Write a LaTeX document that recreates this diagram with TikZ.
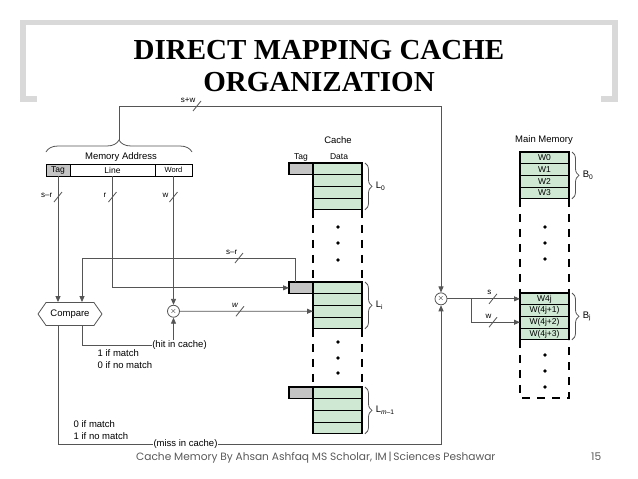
\documentclass[tikz,border=0pt]{standalone}
\usepackage{fontspec}
\setmainfont{Liberation Sans}
\newfontfamily\titlefont{Liberation Serif}
\newfontfamily\footfont{Poppins}
\usetikzlibrary{positioning, shapes.symbols, arrows.meta, decorations.pathreplacing}

\definecolor{cachegreen}{HTML}{CFE8D3}
\definecolor{taggray}{HTML}{C4C4C4}
\definecolor{wiregray}{HTML}{555555}
\definecolor{framegray}{HTML}{D9D9D9}
\definecolor{footgray}{HTML}{595959}

\tikzset{
  memrow/.style={draw, line width=1.2pt, fill=cachegreen, minimum width=49pt, minimum height=11.7pt, inner sep=0pt, outer sep=0pt, font=\fontsize{8.5}{8.5}\selectfont},
  tagbox/.style={draw, line width=1.2pt, fill=taggray, minimum width=24pt, minimum height=11.7pt, inner sep=0pt, outer sep=0pt},
  addrfield/.style={draw, line width=1pt, minimum height=12pt, inner sep=0pt, outer sep=0pt, font=\fontsize{8.5}{8.5}\selectfont},
  wire/.style={draw=wiregray, line width=0.8pt},
  buslabel/.style={font=\fontsize{8}{8}\selectfont, inner sep=0.5pt},
  smalltext/.style={font=\fontsize{9.5}{11.5}\selectfont, inner sep=0.5pt},
  xcirc/.style={draw=wiregray, circle, line width=0.8pt, minimum size=12pt, inner sep=0pt, font=\fontsize{8}{8}\selectfont},
  curly/.style={draw=wiregray, line width=0.8pt, decorate, decoration={brace, amplitude=#1}},
  colline/.style={line width=1.5pt, dash pattern=on 8pt off 7pt},
  bus/.pic={\draw[wiregray, line width=0.8pt] (-4,5) -- (4,-5);}
}

\begin{document}
\begin{tikzpicture}[x=1pt, y=-1pt, >={Triangle[length=6pt,width=5pt]}]
  \useasboundingbox (0,0) rectangle (638,479);

  % title
  \draw[framegray, line width=5.5pt] (23,102) -- (23,22.5) -- (615,22.5) -- (615,102);
  \draw[framegray, line width=5.5pt] (20.5,99) -- (37,99);
  \draw[framegray, line width=5.5pt] (601,99) -- (617.5,99);
  \node[font=\titlefont\bfseries\fontsize{29}{31}\selectfont, anchor=base] (title1) at (319,59) {DIRECT MAPPING CACHE};
  \node[font=\titlefont\bfseries\fontsize{29}{31}\selectfont, anchor=base] (title2) at (319,91) {ORGANIZATION};

  % memory address
  \node[addrfield, fill=taggray, minimum width=24pt] (tagf) at (58,170) {Tag};
  \node[addrfield, minimum width=85pt, right=0pt of tagf] (linef) {Line};
  \node[addrfield, minimum width=37pt, right=0pt of linef, font=\fontsize{7.5}{7.5}\selectfont] (wordf) {Word};
  \node[smalltext] (maddr) at (121,157) {Memory Address};
  \coordinate (bracel) at (46,152);
  \coordinate (bracer) at (192,152);
  \coordinate (addrtip) at (119,140);
  \draw[curly=12pt] (bracel) -- (bracer);

  % cache
  \node[smalltext] (cachelbl) at (338,140) {Cache};
  \node[font=\fontsize{8.5}{8.5}\selectfont] (taglbl) at (301,157) {Tag};
  \node[font=\fontsize{8.5}{8.5}\selectfont] (datalbl) at (339,157) {Data};

  \node[memrow] (c0a) at (337.5,168.85) {};
  \node[memrow, below=0pt of c0a] (c0b) {};
  \node[memrow, below=0pt of c0b] (c0c) {};
  \node[memrow, below=0pt of c0c] (c0d) {};
  \node[tagbox, left=0pt of c0a] (ctag0) {};

  \node[memrow] (cia) at (337.5,287.85) {};
  \node[memrow, below=0pt of cia] (cib) {};
  \node[memrow, below=0pt of cib] (cic) {};
  \node[memrow, below=0pt of cic] (cid) {};
  \node[tagbox, left=0pt of cia] (ctagi) {};

  \node[memrow] (cma) at (337.5,392.85) {};
  \node[memrow, below=0pt of cma] (cmb) {};
  \node[memrow, below=0pt of cmb] (cmc) {};
  \node[memrow, below=0pt of cmc] (cmd) {};
  \node[tagbox, left=0pt of cma] (ctagm) {};

  \draw[colline] (c0d.south west) -- (cia.north west);
  \draw[colline] (c0d.south east) -- (cia.north east);
  \draw[colline] (cid.south west) -- (cma.north west);
  \draw[colline] (cid.south east) -- (cma.north east);
  \foreach \y in {227,243,260,342,358,373} \fill (338,\y) circle (1.8pt);

  \draw[curly=7pt] ([xshift=3pt]c0a.north east) -- node[right=10pt, smalltext] (lzero) {L\textsubscript{0}} ([xshift=3pt]c0d.south east);
  \draw[curly=7pt] ([xshift=3pt]cia.north east) -- node[right=10pt, smalltext] (lline) {L\textsubscript{i}} ([xshift=3pt]cid.south east);
  \draw[curly=7pt] ([xshift=3pt]cma.north east) -- node[right=10pt, smalltext] (llast) {L\textsubscript{\textit{m}--1}} ([xshift=3pt]cmd.south east);

  % main memory
  \node[smalltext] (mmlbl) at (544,140) {Main Memory};
  \node[memrow] (w0) at (544.5,157.85) {W0};
  \node[memrow, below=0pt of w0] (w1) {W1};
  \node[memrow, below=0pt of w1] (w2) {W2};
  \node[memrow, below=0pt of w2] (w3) {W3};

  \node[memrow] (b0) at (544.5,298.85) {W4j};
  \node[memrow, below=0pt of b0] (b1) {W(4j+1)};
  \node[memrow, below=0pt of b1] (b2) {W(4j+2)};
  \node[memrow, below=0pt of b2] (b3) {W(4j+3)};

  \draw[colline] (w3.south west) -- (b0.north west);
  \draw[colline] (w3.south east) -- (b0.north east);
  \draw[colline] (b3.south west) -- ++(0,58) -| (b3.south east);
  \foreach \y in {227,243,259,355,371,387} \fill (545,\y) circle (1.8pt);

  \draw[curly=7pt] ([xshift=3pt]w0.north east) -- node[right=10pt, smalltext] (bzero) {B\textsubscript{0}} ([xshift=3pt]w3.south east);
  \draw[curly=7pt] ([xshift=3pt]b0.north east) -- node[right=10pt, smalltext] (bblock) {B\textsubscript{j}} ([xshift=3pt]b3.south east);

  % compare and select
  \node[draw=wiregray, line width=0.8pt, signal, signal to=west and east, signal pointer angle=110,
        minimum width=64pt, minimum height=23pt, inner sep=1pt, smalltext] (compare) at (70,314) {Compare};
  \node[xcirc] (circ1) at (173.5,311.25) {$\times$};
  \node[xcirc] (circ2) at (441,298.85) {$\times$};
  \node[smalltext] (hit) at (179.5,345) {(hit in cache)};
  \node[smalltext] (miss) at (185.5,444) {(miss in cache)};
  \node[smalltext, anchor=west, align=left] (hitinfo) at (97,359) {1 if match\\0 if no match};
  \node[smalltext, anchor=west, align=left] (missinfo) at (73,430) {0 if match\\1 if no match};
  \coordinate (srcorner) at (82,258);
  \coordinate (swcorner) at (441,106);
  \coordinate (wsplit) at (471,298.85);

  \draw[wire,->] (tagf.south) -- (tagf.south |- compare.north);
  \draw[wire,->] ([xshift=-6pt]ctagi.north) |- (srcorner) -- (srcorner |- compare.north);
  \draw[wire,->] (linef.south) |- (ctagi.west);
  \draw[wire,->] (wordf.south) -- (circ1.north);
  \draw[wire,->] (circ1.east) -- (cic.west);
  \draw[wire] ([xshift=12pt]compare.south) |- (hit.west);
  \draw[wire,->] (hit.north -| circ1) -- (circ1.south);
  \draw[wire] ([xshift=-12pt]compare.south) |- (miss.west);
  \draw[wire,->] (miss.east) -| (circ2.south);
  \draw[wire,->] (addrtip) |- (swcorner) -- (circ2.north);
  \draw[wire,->] (circ2.east) -- (b0.west);
  \draw[wire,->] (wsplit) |- (b2.west);

  % bus widths
  \path (58,197) pic {bus};
  \node[buslabel, anchor=east] (srlbl) at (53,195) {s--r};
  \path (112.5,197) pic {bus};
  \node[buslabel, anchor=east] (rlbl) at (107,195) {r};
  \path (173.5,197) pic {bus};
  \node[buslabel, anchor=east] (wlbl) at (169,195) {w};
  \path (197,106) pic {bus};
  \node[buslabel, anchor=east] (swlbl) at (196,100) {s+w};
  \path (239,258) pic {bus};
  \node[buslabel, anchor=east] (srlbltwo) at (238,252) {s--r};
  \path (240,311.25) pic {bus};
  \node[buslabel, anchor=east] (wlbltwo) at (239,305) {\textit{w}};
  \path (493,298.85) pic {bus};
  \node[buslabel, anchor=east] (slbl) at (492,292) {s};
  \path (493,322.25) pic {bus};
  \node[buslabel, anchor=east] (wlblthree) at (492,316) {w};

  % footer
  \node[font=\footfont\fontsize{10.6}{10.6}\selectfont, text=footgray, anchor=base west, inner sep=0pt] (foot) at (136,460) {Cache Memory By Ahsan Ashfaq MS Scholar, IM\,|\,Sciences Peshawar};
  \node[font=\footfont\fontsize{10.6}{10.6}\selectfont, text=footgray, anchor=base west, inner sep=0pt] (pageno) at (591,460) {15};
\end{tikzpicture}
\end{document}
